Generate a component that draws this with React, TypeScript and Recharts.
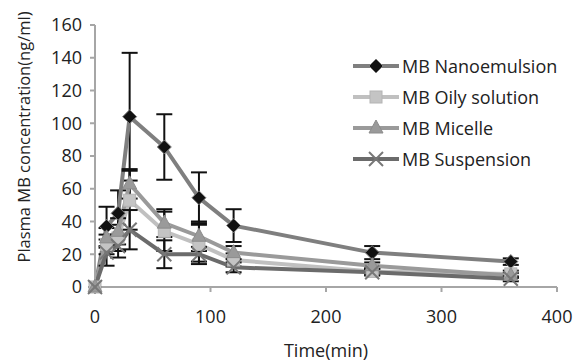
import { LineChart, Line, XAxis, YAxis, ErrorBar } from "recharts"

const times = [0, 10, 20, 30, 60, 90, 120, 240, 360]
const nanoemulsion = [0, 37, 45, 104, 85.5, 54.5, 37.5, 21, 15.5]
const nanoemulsionErr = [0, 12, 14, 39, 20, 15.5, 10, 4, 2]
const oilySolution = [0, 26, 30, 53, 34, 26, 16.5, 9.5, 8]
const oilySolutionErr = [0, 6, 8, 18, 12, 12, 4, 2, 2]
const micelle = [0, 30, 34, 63, 39, 31, 21, 13, 7]
const micelleErr = [0, 6, 8, 9, 8.5, 9, 4, 2, 1.5]
const suspension = [0, 21, 25, 35, 20, 20, 12, 9, 5]
const suspensionErr = [0, 8, 7, 12, 8.5, 4.5, 3, 2, 1.5]

const xTicks = [0, 100, 200, 300, 400]
const yTicks = [0, 20, 40, 60, 80, 100, 120, 140, 160]

const data = times.map((t, i) => ({
  time: t,
  nano: nanoemulsion[i],
  nanoErr: nanoemulsionErr[i],
  oily: oilySolution[i],
  oilyErr: oilySolutionErr[i],
  micelle: micelle[i],
  micelleErr: micelleErr[i],
  susp: suspension[i],
  suspErr: suspensionErr[i],
}))

const FONT = "'Open Sans', sans-serif"
const TEXT = "#222"
const AXIS = "#a6a6a6"

type Shape = "diamond" | "square" | "triangle" | "cross"

function Marker({ shape, cx, cy }: { shape: Shape; cx: number; cy: number }) {
  if (shape === "diamond") {
    return (
      <polygon
        points={`${cx},${cy - 7} ${cx + 7},${cy} ${cx},${cy + 7} ${cx - 7},${cy}`}
        fill="#111"
        stroke="#808080"
        strokeWidth={1}
      />
    )
  }
  if (shape === "square") {
    return <rect x={cx - 6} y={cy - 6} width={12} height={12} fill="#c4c4c4" stroke="#b4b4b4" />
  }
  if (shape === "triangle") {
    return (
      <polygon
        points={`${cx},${cy - 8} ${cx + 7},${cy + 5} ${cx - 7},${cy + 5}`}
        fill="#9a9a9a"
        stroke="#8c8c8c"
      />
    )
  }
  return (
    <g stroke="#777" strokeWidth={2}>
      <line x1={cx - 7} y1={cy - 7} x2={cx + 7} y2={cy + 7} />
      <line x1={cx - 7} y1={cy + 7} x2={cx + 7} y2={cy - 7} />
    </g>
  )
}

const series: { key: string; name: string; color: string; shape: Shape }[] = [
  { key: "nano", name: "MB Nanoemulsion", color: "#7f7f7f", shape: "diamond" },
  { key: "oily", name: "MB Oily solution", color: "#c0c0c0", shape: "square" },
  { key: "micelle", name: "MB Micelle", color: "#9a9a9a", shape: "triangle" },
  { key: "susp", name: "MB Suspension", color: "#6b6b6b", shape: "cross" },
]

function LegendBox() {
  return (
    <div
      style={{
        position: "absolute",
        left: 353,
        top: 50,
        fontFamily: FONT,
        fontSize: 18,
        color: TEXT,
        lineHeight: "20px",
      }}
    >
      {series.map((s) => (
        <div key={s.key} style={{ display: "flex", alignItems: "center", height: 31 }}>
          <svg width={48} height={20} style={{ marginRight: 1 }}>
            <line x1={0} y1={10} x2={46} y2={10} stroke={s.color} strokeWidth={4} />
            <Marker shape={s.shape} cx={23} cy={10} />
          </svg>
          <span>{s.name}</span>
        </div>
      ))}
    </div>
  )
}

export default function App() {
  return (
    <div style={{ position: "absolute", left: 0, top: 0, width: 574, height: 361, background: "#fff" }}>
      <LineChart
        width={574}
        height={361}
        data={data}
        margin={{ top: 25, right: 17, bottom: 0, left: 0 }}
      >
        <XAxis
          dataKey="time"
          type="number"
          domain={[0, 400]}
          ticks={xTicks}
          height={74}
          axisLine={{ stroke: AXIS, strokeWidth: 2 }}
          tickLine={{ stroke: AXIS, strokeWidth: 2 }}
          tickSize={5}
          tickMargin={18}
          tick={{ fill: TEXT, fontSize: 18, fontFamily: FONT }}
          label={{
            content: () => (
              <text x={326} y={350} textAnchor="middle" dominantBaseline="central" fill={TEXT} fontSize={18} fontFamily={FONT}>
                Time(min)
              </text>
            ),
          }}
        />
        <YAxis
          domain={[0, 160]}
          ticks={yTicks}
          width={95}
          axisLine={{ stroke: AXIS, strokeWidth: 2 }}
          tickLine={{ stroke: AXIS, strokeWidth: 2 }}
          tickSize={5}
          tickMargin={8}
          tick={{ fill: TEXT, fontSize: 18, fontFamily: FONT }}
          label={{
            content: () => (
              <text
                x={23}
                y={137}
                transform="rotate(-90 23 137)"
                textAnchor="middle"
                dominantBaseline="central"
                fill={TEXT}
                fontSize={16.5}
                fontFamily={FONT}
              >
                Plasma MB concentration(ng/ml)
              </text>
            ),
          }}
        />
        {series.map((s) => (
          <Line
            key={s.key}
            dataKey={s.key}
            name={s.name}
            type="linear"
            stroke={s.color}
            strokeWidth={4}
            isAnimationActive={false}
            dot={(p: any) => <Marker key={`${s.key}-${p.index}`} shape={s.shape} cx={p.cx} cy={p.cy} />}
            activeDot={false}
          >
            <ErrorBar dataKey={`${s.key}Err`} width={8} stroke="#111" strokeWidth={2} direction="y" />
          </Line>
        ))}
      </LineChart>
      <LegendBox />
    </div>
  )
}
